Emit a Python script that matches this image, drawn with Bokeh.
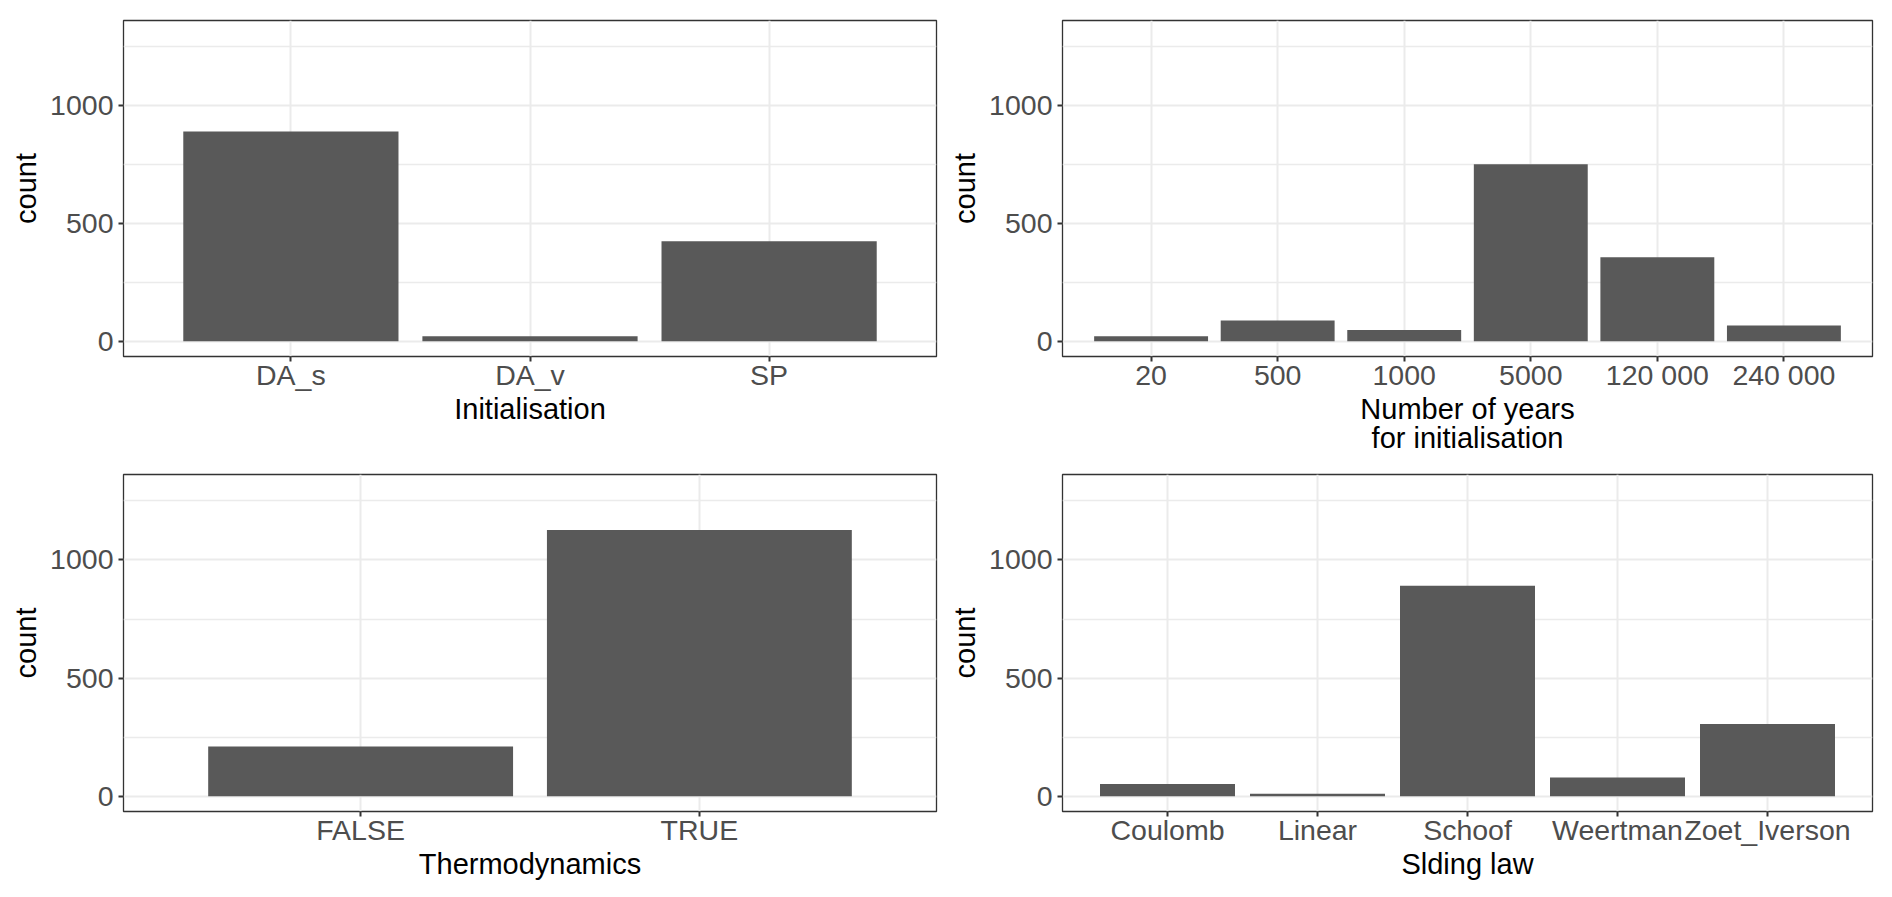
from bokeh.plotting import figure
from bokeh.models import FactorRange, Range1d, FixedTicker
from bokeh.layouts import column, row
from bokeh.embed import file_html
from bokeh.resources import INLINE

# ---- data ----
init_cats = ["DA_s", "DA_v", "SP"]
init_counts = [891, 21, 425]

years_cats = ["20", "500", "1000", "5000", "120 000", "240 000"]
years_counts = [21, 88, 48, 752, 356, 67]

thermo_cats = ["FALSE", "TRUE"]
thermo_counts = [210, 1127]

sliding_cats = ["Coulomb", "Linear", "Schoof", "Weertman", "Zoet_Iverson"]
sliding_counts = [51, 10, 891, 79, 306]

y_major_ticks = [0, 500, 1000]
y_minor_ticks = [250, 750, 1250]

FONT = "Liberation Sans"
BAR = "#595959"
GRID = "#EBEBEB"


def make(cats, counts, xlabel, width, height, bl, br, bt, bb):
    p = figure(
        x_range=FactorRange(factors=cats, range_padding=0.2, range_padding_units="absolute"),
        y_range=Range1d(-65, 1362),
        width=width, height=height,
        output_backend="svg", toolbar_location=None,
        min_border_left=bl, min_border_right=br,
        min_border_top=bt, min_border_bottom=bb,
    )
    p.vbar(x=cats, top=counts, bottom=0, width=0.9, fill_color=BAR, line_color=None)

    p.outline_line_color = "#333333"
    p.outline_line_width = 1.3

    p.xgrid.grid_line_color = GRID
    p.xgrid.grid_line_width = 2
    p.ygrid.grid_line_color = GRID
    p.ygrid.grid_line_width = 2
    p.ygrid.minor_grid_line_color = GRID
    p.ygrid.minor_grid_line_width = 1.5

    p.yaxis.ticker = FixedTicker(ticks=y_major_ticks, minor_ticks=y_minor_ticks)

    for ax in (p.xaxis[0], p.yaxis[0]):
        ax.axis_line_color = None
        ax.major_tick_line_color = "#333333"
        ax.major_tick_line_width = 2
        ax.major_tick_out = 5
        ax.major_tick_in = 0
        ax.minor_tick_line_color = None
        ax.major_label_text_font = FONT
        ax.major_label_text_font_size = "28.5px"
        ax.major_label_text_color = "#4D4D4D"
        ax.axis_label_text_font = FONT
        ax.axis_label_text_font_size = "29px"
        ax.axis_label_text_font_style = "normal"
        ax.axis_label_text_color = "#000000"

    p.xaxis.axis_label = xlabel
    p.xaxis.major_label_standoff = -3
    p.xaxis.axis_label_standoff = -1
    p.xaxis.axis_label_text_line_height = 0.92
    p.yaxis.axis_label = "count"
    p.yaxis.major_label_standoff = 5
    p.yaxis.axis_label_standoff = 5
    return p


# frames: left column x 123-936, right column x 1060-1872
# top row y 20-356, bottom row y 474-811
p1 = make(init_cats, init_counts, "Initialisation", 946, 462, 123, 10, 20, 106)
p2 = make(years_cats, years_counts, "Number of years\nfor initialisation", 946, 462, 114, 20, 20, 106)
p3 = make(thermo_cats, thermo_counts, "Thermodynamics", 946, 434, 123, 10, 12, 85)
p4 = make(sliding_cats, sliding_counts, "Slding law", 946, 434, 114, 20, 12, 85)

layout = column(row(p1, p2), row(p3, p4))

with open("out.html", "w") as f:
    f.write(file_html(layout, INLINE))
